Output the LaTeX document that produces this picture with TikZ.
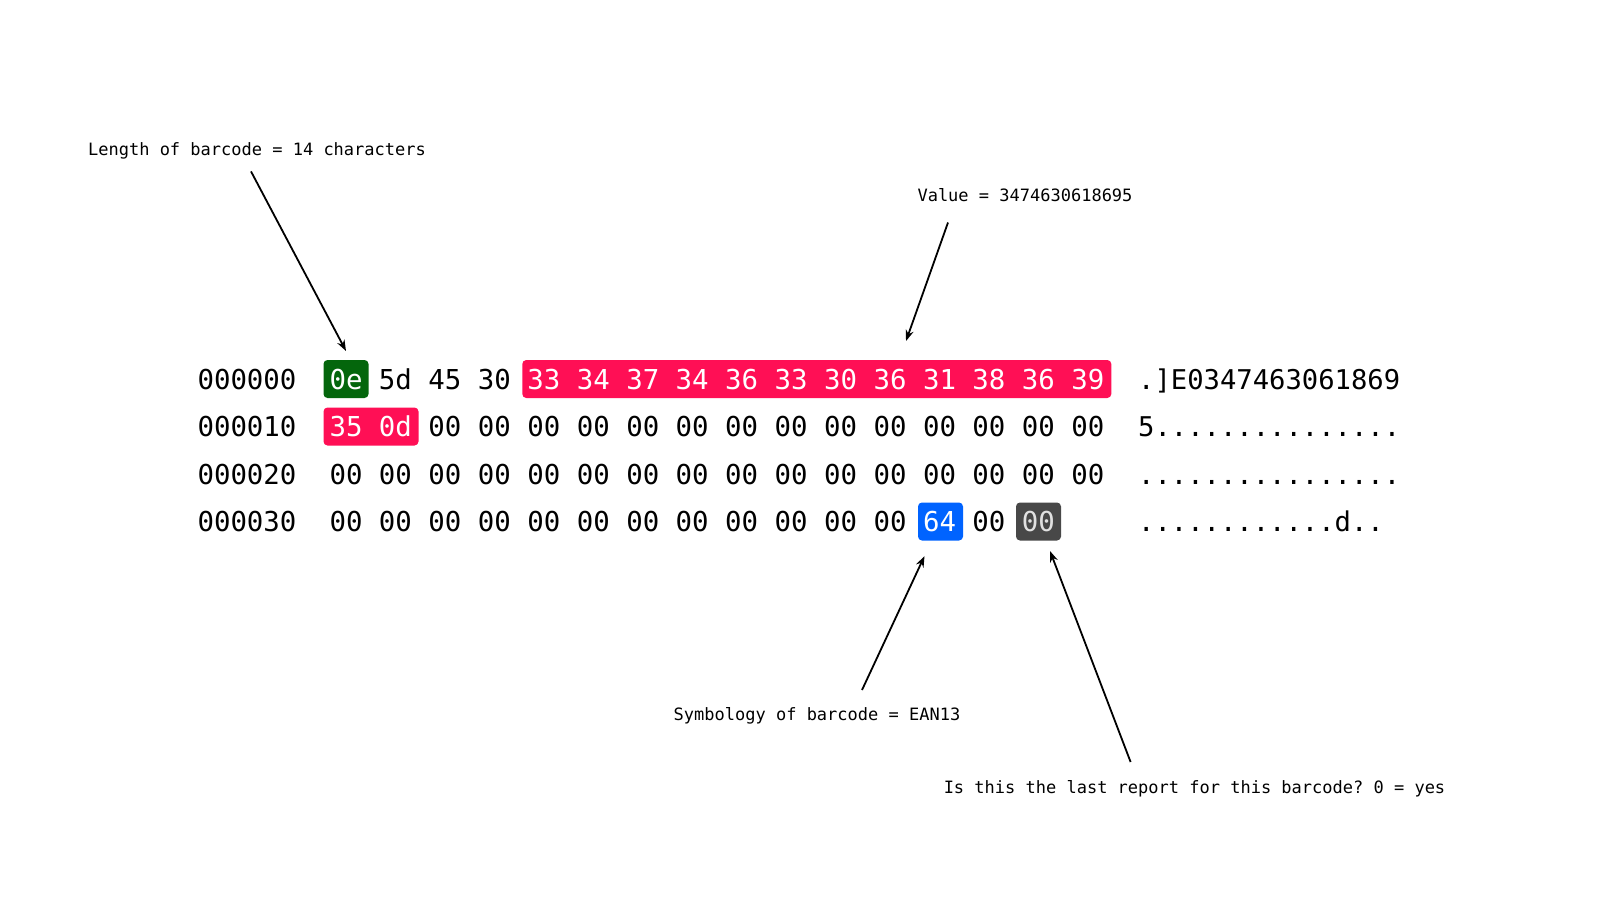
\documentclass[tikz,border=0pt]{standalone}
\usepackage{fontspec}
\setmonofont{DejaVu Sans Mono}
\usetikzlibrary{arrows.meta}
\definecolor{hlgreen}{RGB}{4,102,12}
\definecolor{hlpink}{RGB}{255,15,85}
\definecolor{hlblue}{RGB}{0,99,255}
\definecolor{hlgray}{RGB}{72,72,72}
\definecolor{lightz}{RGB}{225,225,225}
\begin{document}
\begin{tikzpicture}[x=1pt,y=-1pt,
  hex/.style={font=\fontsize{27.4}{30}\selectfont\ttfamily, anchor=base, inner sep=0pt},
  asc/.style={font=\fontsize{27.2}{30}\selectfont\ttfamily, anchor=base west, inner sep=0pt},
  hlbox/.style={rounded corners=4pt, minimum height=38pt, inner sep=0pt, draw=none},
  note/.style={font=\fontsize{17}{20}\selectfont\ttfamily, inner sep=0pt},
  arr/.style={line width=1.8pt, -{Stealth[length=11pt,width=8pt]}}]
\fill[white] (0,0) rectangle (1600,900);
\useasboundingbox (0,0) rectangle (1600,900);

% highlight boxes
\node[hlbox, fill=hlgreen, minimum width=45pt] (lenbox) at (346,379) {};
\node[hlbox, fill=hlpink, minimum width=589pt] (valbox) at (816.8,379) {};
\node[hlbox, fill=hlpink, minimum width=95pt] (valbox2) at (371,426.5) {};
\node[hlbox, fill=hlblue, minimum width=45pt] (symbox) at (940.5,521.5) {};
\node[hlbox, fill=hlgray, minimum width=45pt] (lastbox) at (1038.5,521.5) {};

% offsets
\node[hex] (off0) at (247,389.6) {000000};
\node[hex] (off1) at (247,436.9) {000010};
\node[hex] (off2) at (247,484.2) {000020};
\node[hex] (off3) at (247,531.5) {000030};

% hex bytes
\foreach \b/\c [count=\i from 0] in {0e/white,5d/black,45/black,30/black,33/white,34/white,37/white,34/white,36/white,33/white,30/white,36/white,31/white,38/white,36/white,39/white}
  \node[hex, text=\c] (ra\i) at (346+49.46*\i,389.6) {\b};
\foreach \b/\c [count=\i from 0] in {35/white,0d/white,00/black,00/black,00/black,00/black,00/black,00/black,00/black,00/black,00/black,00/black,00/black,00/black,00/black,00/black}
  \node[hex, text=\c] (rb\i) at (346+49.46*\i,436.9) {\b};
\foreach \i in {0,...,15}
  \node[hex] (rc\i) at (346+49.46*\i,484.2) {00};
\foreach \b/\c [count=\i from 0] in {00/black,00/black,00/black,00/black,00/black,00/black,00/black,00/black,00/black,00/black,00/black,00/black,64/white,00/black,00/lightz}
  \node[hex, text=\c] (rd\i) at (346+49.46*\i,531.5) {\b};

% ascii
\node[asc] (asc0) at (1138,389.6) {.]E0347463061869};
\node[asc] (asc1) at (1138,436.9) {5...............};
\node[asc] (asc2) at (1138,484.2) {................};
\node[asc] (asc3) at (1138,531.5) {............d..};

% annotations
\node[note] (lenlabel) at (257,151) {Length of barcode = 14 characters};
\node[note] (vallabel) at (1025,195) {Value = 3474630618695};
\node[note] (symlabel) at (817,716) {Symbology of barcode = EAN13};
\node[note] (lastlabel) at (1194.5,789) {Is this the last report for this barcode? 0 = yes};

\coordinate (a1s) at (251,171.4);
\coordinate (a1e) at (346,351);
\coordinate (a2s) at (948,222.5);
\coordinate (a2e) at (906,341);
\coordinate (a3s) at (862,690);
\coordinate (a3e) at (924.5,556);
\coordinate (a4s) at (1130.6,762);
\coordinate (a4e) at (1050,551);
\draw[arr] (a1s) -- (a1e);
\draw[arr] (a2s) -- (a2e);
\draw[arr] (a3s) -- (a3e);
\draw[arr] (a4s) -- (a4e);
\end{tikzpicture}
\end{document}
